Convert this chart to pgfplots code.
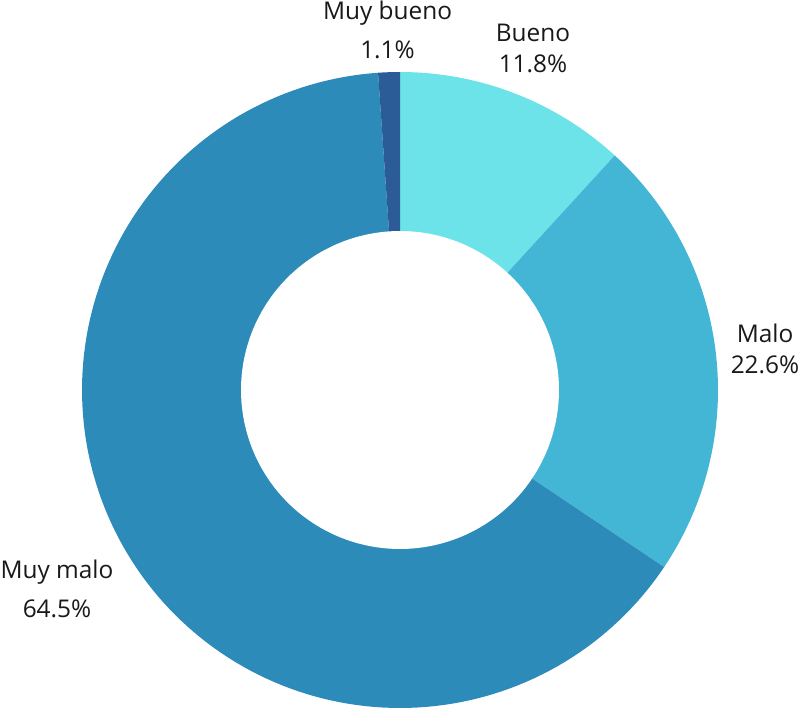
\documentclass[border=0pt]{standalone}
\usepackage{pgfplots}
\pgfplotsset{compat=1.18}
\usepackage{fontspec}
\setmainfont{Open Sans}
\definecolor{cBueno}{HTML}{6BE3E8}
\definecolor{cMalo}{HTML}{43B6D6}
\definecolor{cMuyMalo}{HTML}{2D8BBA}
\definecolor{cMuyBueno}{HTML}{2B5C98}
\tikzset{lbl/.style={font=\fontsize{18.3}{22}\selectfont, text=black!90, inner sep=0pt}}
\begin{document}
\begin{tikzpicture}
% shares in percent
\pgfmathsetmacro{\aA}{90}
\pgfmathsetmacro{\aB}{\aA-3.6*11.8}
\pgfmathsetmacro{\aC}{\aB-3.6*22.6}
\pgfmathsetmacro{\aD}{\aC-3.6*64.5}
\pgfmathsetmacro{\aE}{\aD-3.6*1.1}
\def\cx{400}\def\cy{320}\def\R{318}\def\r{159}
\begin{axis}[scale only axis, width=602.25pt, height=532.5pt,
  xmin=0, xmax=803, ymin=0, ymax=710, hide axis, clip=false,
  samples=150]
\addplot[fill=cBueno, draw=none, domain=\aB:\aA] ({\cx+\R*cos(x)},{\cy+\R*sin(x)}) -- (\cx,\cy) -- cycle;
\addplot[fill=cMalo, draw=none, domain=\aC:\aB] ({\cx+\R*cos(x)},{\cy+\R*sin(x)}) -- (\cx,\cy) -- cycle;
\addplot[fill=cMuyMalo, draw=none, domain=\aD:\aC] ({\cx+\R*cos(x)},{\cy+\R*sin(x)}) -- (\cx,\cy) -- cycle;
\addplot[fill=cMuyBueno, draw=none, samples=10, domain=\aE:\aD] ({\cx+\R*cos(x)},{\cy+\R*sin(x)}) -- (\cx,\cy) -- cycle;
\addplot[fill=white, draw=none, domain=0:360, samples=200] ({\cx+\r*cos(x)},{\cy+\r*sin(x)}) -- cycle;
\node[lbl] at (axis cs:387.5,697) {Muy bueno};
\node[lbl] at (axis cs:387.5,660) {1.1\%};
\node[lbl] at (axis cs:533,677) {Bueno};
\node[lbl] at (axis cs:533,646) {11.8\%};
\node[lbl] at (axis cs:765,377) {Malo};
\node[lbl] at (axis cs:765,345) {22.6\%};
\node[lbl] at (axis cs:57,137.5) {Muy malo};
\node[lbl] at (axis cs:57,101) {64.5\%};
\coordinate (bl) at (axis cs:0,0);
\coordinate (tr) at (axis cs:803,710);
\end{axis}
\pgfresetboundingbox
\useasboundingbox (bl) rectangle (tr);
\end{tikzpicture}
\end{document}
